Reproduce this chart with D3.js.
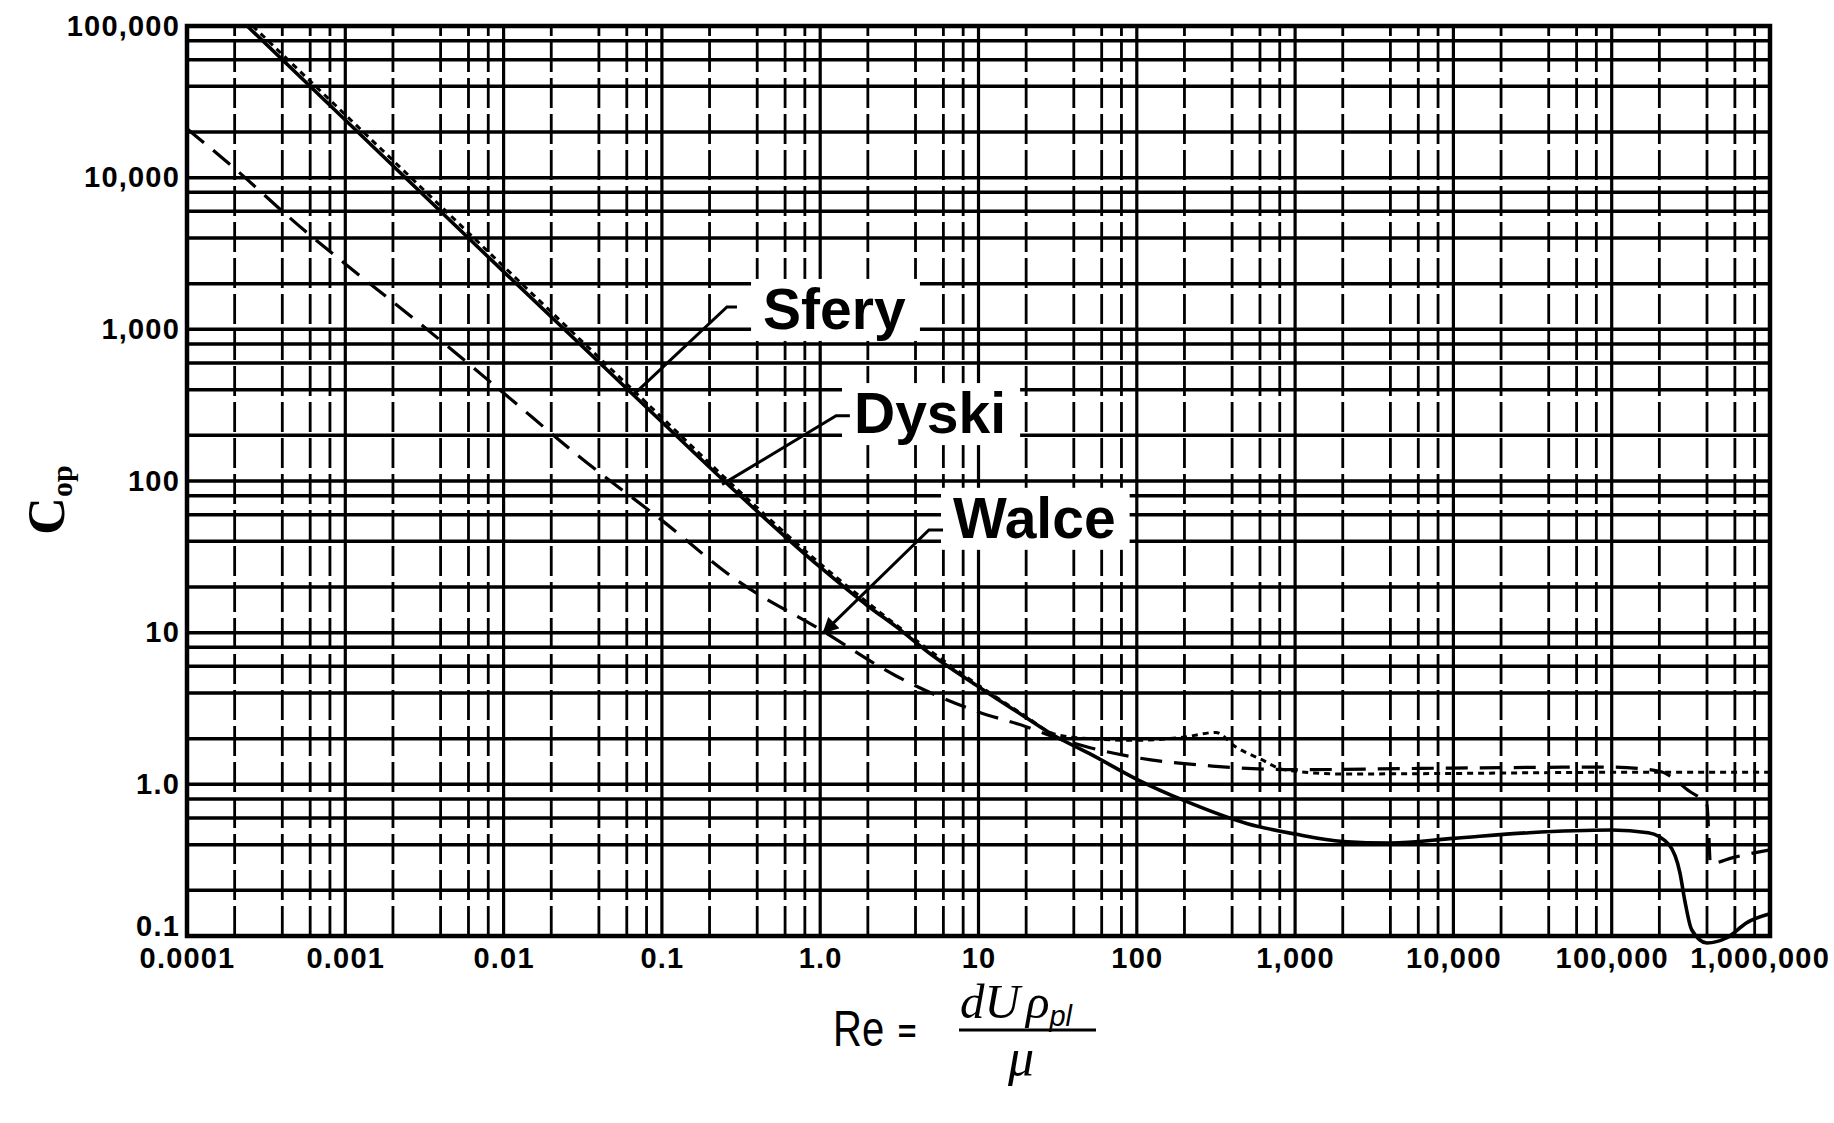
<!DOCTYPE html>
<html><head><meta charset="utf-8">
<script src="https://cdn.jsdelivr.net/npm/d3@7"></script>
<style>html,body{margin:0;padding:0;background:#fff}</style>
</head><body>
<svg id="chart" width="1834" height="1123"></svg>
<script>
// ---- tick values & labels ----
const xTickValues = [1e-4, 1e-3, 1e-2, 1e-1, 1, 10, 100, 1e3, 1e4, 1e5, 1e6];
const xTickLabels = ["0.0001", "0.001", "0.01", "0.1", "1.0", "10", "100", "1,000", "10,000", "100,000", "1,000,000"];
const yTickValues = [0.1, 1, 10, 100, 1e3, 1e4, 1e5];
const yTickLabels = ["0.1", "1.0", "10", "100", "1,000", "10,000", "100,000"];
const gridMultipliers = [1, 2, 4, 6, 8];

// ---- series: Sfery (spheres, solid) ----
const sferyRe = [2.4e-4, 1e-3, 1e-2, 0.1, 0.3, 1, 2, 3, 5, 10, 20, 30, 50, 100, 200, 500, 1000, 2000, 4000, 1e4, 3e4, 1e5, 1.7e5, 2.3e5, 2.7e5, 2.9e5, 3.2e5, 4e5, 5.3e5, 7.2e5, 1e6];
const sferyC  = [100000, 24000, 2400, 245, 83, 27, 15, 11, 7.2, 4.4, 2.75, 2.1, 1.6, 1.08, 0.78, 0.55, 0.47, 0.42, 0.41, 0.44, 0.48, 0.5, 0.48, 0.40, 0.26, 0.17, 0.11, 0.09, 0.097, 0.123, 0.14];

// ---- series: Dyski (disks, short dashes) ----
const dyskiRe = [2.6e-4, 1e-3, 1e-2, 0.1, 0.3, 1, 3, 10, 20, 30, 50, 100, 200, 316, 420, 610, 850, 2000, 1e4, 1e5, 1e6];
const dyskiC  = [100000, 26000, 2600, 262, 88, 28.5, 11.3, 4.5, 2.8, 2.15, 2.0, 1.95, 2.05, 2.2, 1.77, 1.46, 1.25, 1.17, 1.18, 1.2, 1.2];

// ---- series: Walce (cylinders, long dashes) ----
const walceRe = [1e-4, 2e-4, 5e-4, 1e-3, 3e-3, 1e-2, 3e-2, 0.1, 0.3, 1, 3, 10, 20, 30, 50, 100, 300, 1000, 1e4, 1e5, 2e5, 3.1e5, 4e5, 4.1e5, 4.2e5, 5.9e5, 1e6];
const walceC  = [21000, 11500, 4900, 2700, 1080, 380, 145, 55, 22, 10.5, 5.2, 3.0, 2.4, 2.05, 1.75, 1.5, 1.32, 1.25, 1.28, 1.3, 1.22, 0.9, 0.73, 0.48, 0.30, 0.33, 0.37];

// ---- annotations (data space) ----
const labelNames = ["Sfery", "Dyski", "Walce"];
const labelRe = [0.4355, 1.635, 6.9];
const labelC = [1006, 207, 42.2];
const leaderRe = [[0.066, 0.2576, 0.298], [0.24, 1.26, 1.54], [1.05, 4.86, 5.97]];
const leaderC  = [[370, 1405, 1405], [95, 269, 269], [10, 47.6, 47.6]];
const leaderArrow = [false, false, true];

// ---- layout ----
const W = 1834, H = 1123;
const margin = {left: 187, right: 64, top: 26, bottom: 187};
const svg = d3.select("#chart");
const SANS = "Liberation Sans, Arial, Helvetica, sans-serif";
const SERIF = "Liberation Serif, Times New Roman, serif";

const x = d3.scaleLog().domain([1e-4, 1e6]).range([margin.left, W - margin.right]);
const y = d3.scaleLog().domain([0.1, 1e5]).range([H - margin.bottom, margin.top]);

// grid values
const xGrid = [];
for (let k = -4; k < 6; k++) gridMultipliers.forEach(m => xGrid.push({v: m * Math.pow(10, k), major: m === 1}));
xGrid.push({v: 1e6, major: true});
const yGrid = [];
for (let k = -1; k < 5; k++) gridMultipliers.forEach(m => yGrid.push({v: m * Math.pow(10, k), major: m === 1}));
yGrid.push({v: 1e5, major: true});

const grid = svg.append("g");
grid.selectAll("line.h").data(yGrid).join("line")
  .attr("x1", x.range()[0]).attr("x2", x.range()[1])
  .attr("y1", d => y(d.v)).attr("y2", d => y(d.v))
  .attr("stroke", "#000").attr("stroke-width", 3.5);
grid.selectAll("line.v").data(xGrid).join("line")
  .attr("y1", y.range()[0]).attr("y2", y.range()[1])
  .attr("x1", d => x(d.v)).attr("x2", d => x(d.v))
  .attr("stroke", "#000").attr("stroke-width", d => d.major ? 3.2 : 2.8)
  .attr("stroke-dasharray", d => d.major ? null : "30,6");

// frame
svg.append("rect")
  .attr("x", x.range()[0]).attr("y", y.range()[1])
  .attr("width", x.range()[1] - x.range()[0]).attr("height", y.range()[0] - y.range()[1])
  .attr("fill", "none").attr("stroke", "#000").attr("stroke-width", 4.5);

// axes (labels only)
const xAxis = d3.axisBottom(x).tickValues(xTickValues).tickFormat((d, i) => xTickLabels[i]).tickSize(0).tickPadding(11);
const gx = svg.append("g").attr("transform", `translate(0,${y.range()[0]})`).call(xAxis);
gx.select(".domain").remove();
gx.selectAll("text").attr("font-family", SANS).attr("font-weight", 700)
  .attr("font-size", 29).attr("letter-spacing", 1.2).attr("fill", "#000");
// keep the last label inside the picture
gx.selectAll("text").each(function () {
  const bb = this.getBBox();
  const m = this.parentNode.transform.baseVal.consolidate().matrix;
  const right = m.e + bb.x + bb.width;
  if (right > W - 4) d3.select(this).attr("dx", (W - 4 - right) + "px");
});

const yAxis = d3.axisLeft(y).tickValues(yTickValues).tickFormat((d, i) => yTickLabels[i]).tickSize(0).tickPadding(7);
const gy = svg.append("g").attr("transform", `translate(${x.range()[0]},0)`).call(yAxis);
gy.select(".domain").remove();
gy.selectAll("text").attr("font-family", SANS).attr("font-weight", 700)
  .attr("font-size", 29).attr("letter-spacing", 1.2).attr("fill", "#000");
// lift the bottom label above the frame corner
gy.selectAll(".tick").filter(d => d === yTickValues[0]).select("text").attr("y", -10);

// curves
const line = d3.line().x(d => x(d[0])).y(d => y(d[1])).curve(d3.curveMonotoneX);
const zip = (a, b) => a.map((v, i) => [v, b[i]]);
svg.append("path").datum(zip(walceRe, walceC)).attr("d", line)
  .attr("fill", "none").attr("stroke", "#000").attr("stroke-width", 3.2).attr("stroke-dasharray", "22,12");
svg.append("path").datum(zip(dyskiRe, dyskiC)).attr("d", line)
  .attr("fill", "none").attr("stroke", "#000").attr("stroke-width", 3).attr("stroke-dasharray", "6,5");
svg.append("path").datum(zip(sferyRe, sferyC)).attr("d", line)
  .attr("fill", "none").attr("stroke", "#000").attr("stroke-width", 3.6);

// arrow marker
svg.append("defs").append("marker").attr("id", "arr").attr("viewBox", "0 0 10 10")
  .attr("refX", 9).attr("refY", 5).attr("markerWidth", 20).attr("markerHeight", 16)
  .attr("orient", "auto-start-reverse").attr("markerUnits", "userSpaceOnUse")
  .append("path").attr("d", "M0,0 L10,5 L0,10 z").attr("fill", "#000");

// annotations
const ann = svg.append("g");
labelNames.forEach((name, i) => {
  const t = ann.append("text").attr("x", x(labelRe[i])).attr("y", y(labelC[i]))
    .attr("font-family", SANS).attr("font-weight", 700)
    .attr("font-size", 57).attr("fill", "#000").text(name);
  const bb = t.node().getBBox();
  ann.insert("rect", "text").attr("x", bb.x - 12).attr("y", bb.y + 2).attr("width", bb.width + 26).attr("height", bb.height - 2)
    .attr("fill", "#fff");
  const pts = leaderRe[i].map((r, j) => [x(r), y(leaderC[i][j])]);
  const p = ann.append("path").attr("d", d3.line()(pts)).attr("fill", "none").attr("stroke", "#000").attr("stroke-width", 3);
  if (leaderArrow[i]) p.attr("marker-start", "url(#arr)");
});

// y-axis title
svg.append("text").attr("transform", `translate(64,500) rotate(-90)`)
  .attr("text-anchor", "middle").attr("font-family", SERIF).attr("font-weight", 700)
  .call(t => {
    t.append("tspan").attr("font-size", 52).text("C");
    t.append("tspan").attr("font-size", 30).attr("dy", 8).text("op");
  });

// x-axis title: Re = dUρ_pl / μ
const xt = svg.append("g");
xt.append("text").attr("transform", "translate(833,1046) scale(0.8,1)").attr("font-family", SANS)
  .attr("font-size", 50).text("Re");
xt.append("text").attr("x", 907).attr("y", 1042).attr("text-anchor", "middle").attr("font-family", SANS)
  .attr("font-weight", 700).attr("font-size", 32).text("=");
const num = xt.append("text").attr("x", 960).attr("y", 1018).attr("font-family", SERIF)
  .attr("font-style", "italic").attr("font-size", 49);
num.append("tspan").text("dU");
num.append("tspan").attr("dx", 6).text("ρ");
num.append("tspan").attr("font-family", SANS).attr("font-size", 29).attr("dy", 8).text("pl");
xt.append("line").attr("x1", 959).attr("x2", 1096).attr("y1", 1030).attr("y2", 1030).attr("stroke", "#000").attr("stroke-width", 2.8);
xt.append("text").attr("x", 1021).attr("y", 1075).attr("text-anchor", "middle").attr("font-family", SERIF)
  .attr("font-style", "italic").attr("font-size", 52).text("μ");
</script>
</body></html>
